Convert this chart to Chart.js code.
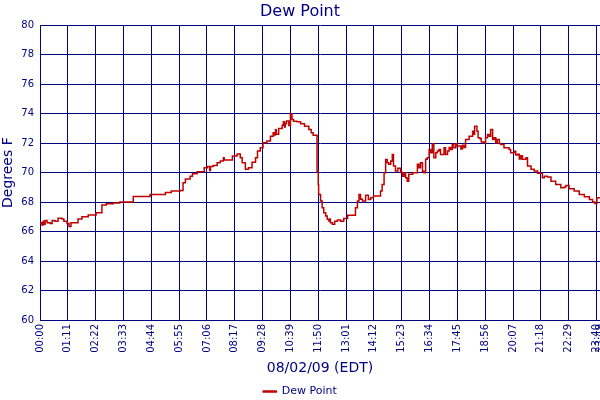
<!DOCTYPE html>
<html>
<head>
<meta charset="utf-8">
<script src="https://cdn.jsdelivr.net/npm/chart.js@4"></script>
<style>
  html, body { margin: 0; padding: 0; background: #fff; }
  #wrap { width: 600px; height: 400px; }
</style>
</head>
<body>
<div id="wrap"><canvas id="dewChart" width="600" height="400"></canvas></div>
<script>
// minutes after midnight
const times = [
  0, 3, 5, 8, 10, 13, 18, 26, 31, 38,
  46, 56, 61, 69, 74, 79, 92, 97, 107, 123,
  143, 158, 169, 187, 204, 238, 281, 320, 335, 358,
  365, 371, 383, 389, 401, 419, 427, 433, 435, 442,
  452, 460, 468, 470, 491, 503, 511, 516, 524, 532,
  541, 550, 555, 562, 569, 579, 588, 595, 598, 601,
  603, 609, 618, 621, 624, 626, 629, 635, 639, 643,
  647, 656, 665, 675, 686, 692, 697, 706, 707, 710,
  711, 716, 720, 724, 729, 733, 737, 739, 741, 746,
  752, 759, 767, 775, 785, 800, 805, 810, 814, 818,
  823, 831, 838, 844, 851, 869, 873, 878, 882, 886,
  890, 895, 899, 902, 907, 913, 920, 925, 929, 933,
  937, 941, 951, 963, 967, 971, 976, 980, 984, 988,
  993, 997, 1001, 1005, 1010, 1014, 1018, 1022, 1031, 1035,
  1040, 1044, 1048, 1052, 1056, 1061, 1065, 1069, 1074, 1078,
  1082, 1086, 1095, 1104, 1107, 1109, 1115, 1118, 1123, 1126,
  1133, 1137, 1142, 1146, 1150, 1155, 1159, 1163, 1167, 1172,
  1176, 1184, 1193, 1197, 1201, 1210, 1214, 1219, 1223, 1227,
  1231, 1240, 1244, 1253, 1261, 1270, 1282, 1287, 1295, 1304,
  1316, 1329, 1338, 1342, 1350, 1363, 1376, 1389, 1402, 1410,
  1416, 1421, 1429
];

// dew point, degrees F
const dewPoint = [
  66.55, 66.6, 66.45, 66.7, 66.5, 66.75, 66.6, 66.55, 66.75, 66.7,
  66.9, 66.85, 66.7, 66.55, 66.35, 66.6, 66.6, 66.85, 67.0, 67.12,
  67.27, 67.8, 67.88, 67.93, 68.0, 68.38, 68.52, 68.65, 68.75, 68.79,
  69.31, 69.56, 69.76, 69.92, 70.05, 70.33, 70.42, 70.15, 70.42, 70.49,
  70.67, 70.78, 71.0, 70.85, 71.12, 71.27, 71.0, 70.67, 70.22, 70.33,
  70.7, 71.0, 71.46, 71.68, 72.02, 72.14, 72.47, 72.7, 72.55, 72.9,
  72.6, 73.0, 73.22, 73.45, 73.1, 73.31, 73.5, 73.2, 73.99, 73.6,
  73.49, 73.45, 73.31, 73.15, 72.93, 72.7, 72.54, 72.54, 70.05, 69.2,
  68.52, 68.07, 67.61, 67.27, 67.05, 66.83, 66.71, 66.85, 66.6, 66.49,
  66.7, 66.78, 66.7, 66.89, 67.1, 67.1, 67.61, 68.07, 68.52, 68.2,
  68.07, 68.47, 68.18, 68.3, 68.41, 68.75, 69.2, 69.99, 70.89, 70.67,
  70.56, 70.78, 71.23, 70.44, 70.11, 70.3, 70.0, 69.76, 69.99, 69.65,
  69.42, 69.88, 69.99, 70.56, 70.33, 70.67, 70.1, 69.99, 70.9, 71.0,
  71.57, 71.34, 71.95, 71.0, 71.34, 71.46, 71.57, 71.23, 71.68, 71.23,
  71.46, 71.7, 71.57, 71.9, 71.68, 71.95, 71.8, 71.8, 71.6, 71.85,
  71.7, 72.25, 72.47, 72.81, 72.6, 73.15, 72.8, 72.36, 72.3, 72.07,
  72.0, 72.36, 72.59, 72.47, 72.93, 72.25, 72.36, 72.02, 72.25, 71.97,
  71.9, 71.68, 71.68, 71.57, 71.34, 71.45, 71.2, 71.25, 70.93, 71.15,
  70.9, 71.0, 70.44, 70.22, 70.11, 69.95, 69.65, 69.76, 69.7, 69.42,
  69.2, 68.97, 69.02, 69.13, 68.9, 68.75, 68.52, 68.36, 68.18, 68.0,
  67.91, 68.29, 68.25
];

const tickLabels = [
  '00:00', '01:11', '02:22', '03:33', '04:44', '05:55', '07:06', '08:17',
  '09:28', '10:39', '11:50', '13:01', '14:12', '15:23', '16:34', '17:45',
  '18:56', '20:07', '21:18', '22:29', '23:40', '23:49'
];

const toMin = s => { const p = s.split(':'); return +p[0] * 60 + +p[1]; };
const tickMinutes = tickLabels.map(toMin);
const pad2 = n => (n < 10 ? '0' : '') + n;
const fmt = m => pad2(Math.floor(m / 60)) + ':' + pad2(m % 60);

const navy = '#000080';
const red = '#c00000';
const font = 'DejaVu Sans, Verdana, sans-serif';

new Chart(document.getElementById('dewChart'), {
  type: 'line',
  data: {
    datasets: [{
      label: 'Dew Point',
      data: times.map((t, i) => ({ x: t, y: dewPoint[i] })),
      borderColor: red,
      backgroundColor: red,
      borderWidth: 1.5,
      pointRadius: 0,
      stepped: true,
      fill: false
    }]
  },
  options: {
    responsive: false,
    animation: false,
    layout: { padding: { top: 0, left: 0, right: 0, bottom: -7 } },
    plugins: {
      title: {
        display: true,
        text: 'Dew Point',
        color: navy,
        font: { family: font, size: 16, weight: 'normal' },
        padding: { top: 2, bottom: 4 }
      },
      legend: {
        position: 'bottom',
        labels: {
          color: navy,
          font: { family: font, size: 11 },
          boxWidth: 13,
          boxHeight: 1,
          padding: 1
        }
      },
      tooltip: { enabled: false }
    },
    scales: {
      x: {
        type: 'linear',
        min: 0,
        max: 1429,
        afterBuildTicks: s => { s.ticks = tickMinutes.map(v => ({ value: v })); },
        afterFit: s => { s.paddingLeft = 0; s.paddingRight = 0; s.height = 65; },
        grid: { color: navy, lineWidth: 1, drawTicks: false },
        border: { color: navy, width: 1 },
        ticks: {
          autoSkip: false,
          minRotation: 90,
          maxRotation: 90,
          padding: 4,
          color: navy,
          font: { family: font, size: 10 },
          callback: v => fmt(v)
        },
        title: {
          display: true,
          text: '08/02/09 (EDT)',
          color: navy,
          font: { family: font, size: 14 },
          padding: { top: 0, bottom: 8.5 }
        }
      },
      y: {
        min: 60,
        max: 80,
        afterFit: s => { s.width = 40; s.paddingTop = 0; s.paddingBottom = 0; },
        grid: { color: navy, lineWidth: 1, drawTicks: false },
        border: { color: navy, width: 1 },
        ticks: {
          stepSize: 2,
          padding: 6,
          color: navy,
          font: { family: font, size: 10 }
        },
        title: {
          display: true,
          text: 'Degrees F',
          color: navy,
          font: { family: font, size: 14 },
          padding: 0
        }
      }
    }
  }
});
</script>
</body>
</html>
